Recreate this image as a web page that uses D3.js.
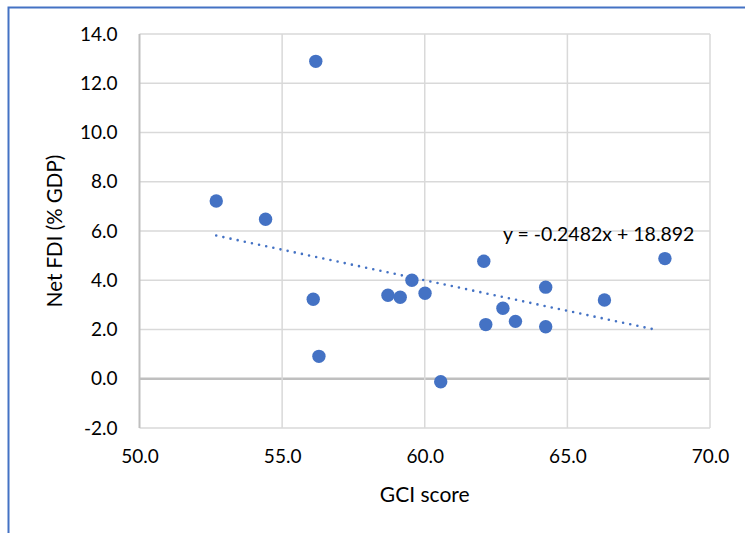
<!DOCTYPE html>
<html>
<head>
<meta charset="utf-8">
<title>Net FDI vs GCI score</title>
<script src="https://cdnjs.cloudflare.com/ajax/libs/d3/7.8.5/d3.min.js"></script>
<style>
body{
margin:0;
background:#fff
}
svg{
display:block
}
text{
font-family:Lato, "Liberation Sans", sans-serif;
fill:#000
}
</style>
</head>
<body>
<svg width="745" height="533"></svg>

<script>

// GCI score vs net FDI (% GDP)
var gci = [56.18, 52.69, 54.42, 56.09, 56.29, 58.71, 59.14, 59.55, 60.01, 60.56, 62.07, 62.14, 62.74, 63.18, 64.24, 64.24, 66.30, 68.42]
var fdi = [12.89, 7.22, 6.48, 3.23, 0.91, 3.39, 3.31, 4.00, 3.47, -0.12, 4.77, 2.20, 2.86, 2.33, 3.72, 2.11, 3.20, 4.88]
var xTicks = [50, 55, 60, 65, 70]
var yTicks = [-2, 0, 2, 4, 6, 8, 10, 12, 14]
var trendSlope = -0.2482
var trendIntercept = 18.892
var trendRange = [52.69, 68.2]

var points = gci.map((g, i) => ({x: g, y: fdi[i]}))

var svg = d3.select('svg')
var blue = '#4472C4'
// plain hyphen for negatives, like the original
var fmt = d => d.toFixed(1)

var x = d3.scaleLinear().domain([50, 70]).range([139.5, 710])
var y = d3.scaleLinear().domain([-2, 14]).range([428, 34])

// outer chart border (only left and top show)
svg.append('rect')
	.attr('x', 8.5).attr('y', 7.5)
	.attr('width', 800).attr('height', 600)
	.attr('fill', 'none')
	.attr('stroke', blue)
	.attr('stroke-width', 2)

// gridlines
svg.append('g')
	.selectAll('line')
	.data(yTicks)
	.join('line')
	.attr('x1', x(50)).attr('x2', x(70))
	.attr('y1', d => y(d)).attr('y2', d => y(d))
	.attr('stroke', d => d == 0 ? '#bfbfbf' : '#d9d9d9')
	.attr('stroke-width', d => d == 0 ? 2.5 : 1.5)

svg.append('g')
	.selectAll('line')
	.data(xTicks)
	.join('line')
	.attr('x1', d => x(d)).attr('x2', d => x(d))
	.attr('y1', y(-2)).attr('y2', y(14))
	.attr('stroke', d => d == 50 ? '#bfbfbf' : '#d9d9d9')
	.attr('stroke-width', d => d == 50 ? 2 : 1.5)

// tick labels
const xAxis = svg.append('g')
	.attr('transform', 'translate(0,' + y(-2) + ')')
	.call(d3.axisBottom(x).tickValues(xTicks).tickFormat(fmt).tickSize(0).tickPadding(22))
xAxis.select('.domain').remove()
xAxis.selectAll('text').attr('font-size', 19).attr('font-family', 'Lato, sans-serif')

const yAxis = svg.append('g')
	.attr('transform', 'translate(' + x(50) + ',0)')
	.call(d3.axisLeft(y).tickValues(yTicks).tickFormat(fmt).tickSize(0).tickPadding(22))
yAxis.select('.domain').remove()
yAxis.selectAll('text').attr('font-size', 19).attr('font-family', 'Lato, sans-serif')

// axis titles
svg.append('text')
	.attr('x', (x(50) + x(70)) / 2)
	.attr('y', 502)
	.attr('text-anchor', 'middle')
	.attr('font-size', 21)
	.text('GCI score')

svg.append('text')
	.attr('transform', 'translate(62,' + (y(-2) + y(14)) / 2 + ') rotate(-90)')
	.attr('text-anchor', 'middle')
	.attr('font-size', 20.5)
	.text('Net FDI (% GDP)')

// linear trendline
svg.append('line')
	.attr('x1', x(trendRange[0])).attr('y1', y(trendSlope * trendRange[0] + trendIntercept))
	.attr('x2', x(trendRange[1])).attr('y2', y(trendSlope * trendRange[1] + trendIntercept))
	.attr('stroke', blue)
	.attr('stroke-width', 2.6)
	.attr('stroke-linecap', 'round')
	.attr('stroke-dasharray', '0 7.3')

svg.append('text')
	.attr('x', 503)
	.attr('y', 241)
	.attr('font-size', 19.5)
	.text('y = ' + trendSlope + 'x + ' + trendIntercept)

// points
svg.append('g')
	.attr('fill', blue)
	.selectAll('circle')
	.data(points)
	.join('circle')
	.attr('cx', d => x(d.x))
	.attr('cy', d => y(d.y))
	.attr('r', 6.7)

</script>
</body>
</html>
